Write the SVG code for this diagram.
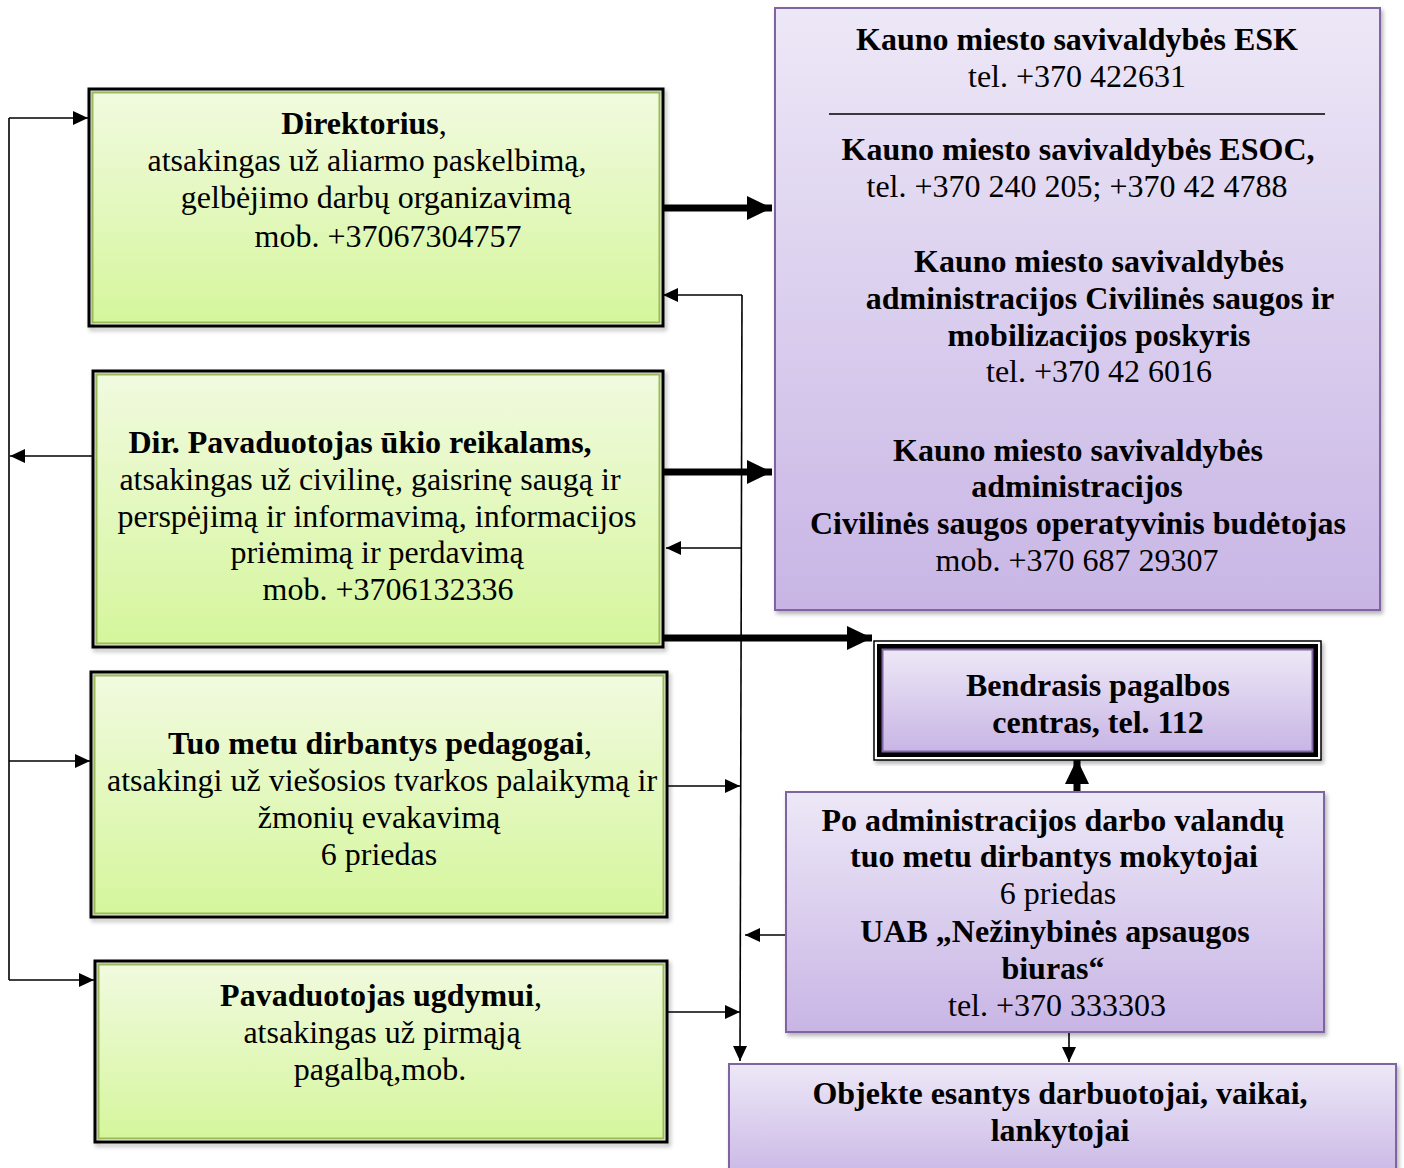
<svg xmlns="http://www.w3.org/2000/svg" width="1404" height="1168" viewBox="0 0 1404 1168">
<style>
text{font-family:"Liberation Serif","Times New Roman",serif;font-size:32px;fill:#000;text-anchor:middle}
.b{font-weight:bold}
.gOut{fill:none;stroke:#000;stroke-width:3}
.gIn{fill:url(#gg);stroke:#9bbb59;stroke-width:2}
.pBox{fill:url(#pg);stroke:#8064a2;stroke-width:2}
.thin{fill:none;stroke:#000;stroke-width:1.6}
.thick{fill:none;stroke:#000;stroke-width:7}
</style>
<defs>
<linearGradient id="gg" x1="0" y1="0" x2="0" y2="1">
<stop offset="0" stop-color="#f1fadf"/>
<stop offset="1" stop-color="#d5f69c"/>
</linearGradient>
<linearGradient id="pg" x1="0" y1="0" x2="0" y2="1">
<stop offset="0" stop-color="#ede8f7"/>
<stop offset="1" stop-color="#c8b5e5"/>
</linearGradient>
<filter id="sh" x="-5%" y="-5%" width="110%" height="110%">
<feDropShadow dx="2" dy="3" stdDeviation="2" flood-color="#000" flood-opacity="0.3"/>
</filter>
<marker id="ah" markerUnits="userSpaceOnUse" markerWidth="16" markerHeight="14" refX="15" refY="7" orient="auto">
<path d="M0,0 L15,7 L0,14 Z" fill="#000"/>
</marker>
<marker id="ahT" markerUnits="userSpaceOnUse" markerWidth="26" markerHeight="24" refX="25" refY="12" orient="auto">
<path d="M0,0 L25,12 L0,24 Z" fill="#000"/>
</marker>
</defs>

<g id="connectors">
<path class="thin" d="M9,118 V980"/>
<path class="thin" d="M9,118 H88" marker-end="url(#ah)"/>
<path class="thin" d="M9,761 H90" marker-end="url(#ah)"/>
<path class="thin" d="M9,980 H94" marker-end="url(#ah)"/>
<path class="thin" d="M92,456 H10" marker-end="url(#ah)"/>
<path class="thin" d="M742,295 L740,1061" marker-end="url(#ah)"/>
<path class="thin" d="M742,295 H663" marker-end="url(#ah)"/>
<path class="thin" d="M741,548 H666" marker-end="url(#ah)"/>
<path class="thin" d="M668,786 H740" marker-end="url(#ah)"/>
<path class="thin" d="M668,1012 H740" marker-end="url(#ah)"/>
<path class="thin" d="M785,935 H745" marker-end="url(#ah)"/>
<path class="thin" d="M1069,1032 V1062" marker-end="url(#ah)"/>
<path class="thick" d="M663,208 H772" marker-end="url(#ahT)"/>
<path class="thick" d="M663,472 H772" marker-end="url(#ahT)"/>
<path class="thick" d="M663,638 H872" marker-end="url(#ahT)"/>
<path class="thick" d="M1077,791 V759" marker-end="url(#ahT)"/>
</g>

<g id="node-direktorius">
<rect class="gOut" x="89" y="89" width="574" height="237" filter="url(#sh)"/>
<rect class="gIn" x="92.5" y="92.5" width="567" height="230"/>
<text x="364" y="134"><tspan class="b">Direktorius</tspan>,</text>
<text x="367" y="171">atsakingas už aliarmo paskelbimą,</text>
<text x="376" y="208">gelbėjimo darbų organizavimą</text>
<text x="388" y="247">mob. +37067304757</text>
</g>

<g id="node-pavaduotojas-ukio">
<rect class="gOut" x="93" y="371" width="570" height="276" filter="url(#sh)"/>
<rect class="gIn" x="96.5" y="374.5" width="563" height="269"/>
<text x="360" y="453" class="b">Dir. Pavaduotojas ūkio reikalams,</text>
<text x="370" y="490">atsakingas už civilinę, gaisrinę saugą ir</text>
<text x="377" y="527">perspėjimą ir informavimą, informacijos</text>
<text x="377" y="563">priėmimą ir perdavimą</text>
<text x="388" y="600">mob. +3706132336</text>
</g>

<g id="node-pedagogai">
<rect class="gOut" x="91" y="672" width="576" height="245" filter="url(#sh)"/>
<rect class="gIn" x="94.5" y="675.5" width="569" height="238"/>
<text x="380" y="754"><tspan class="b">Tuo metu dirbantys pedagogai</tspan>,</text>
<text x="382" y="791">atsakingi už viešosios tvarkos palaikymą ir</text>
<text x="379" y="828">žmonių evakavimą</text>
<text x="379" y="865">6 priedas</text>
</g>

<g id="node-ugdymui">
<rect class="gOut" x="95" y="961" width="572" height="181" filter="url(#sh)"/>
<rect class="gIn" x="98.5" y="964.5" width="565" height="174"/>
<text x="381" y="1006"><tspan class="b">Pavaduotojas ugdymui</tspan>,</text>
<text x="382" y="1043">atsakingas už pirmąją</text>
<text x="380" y="1080">pagalbą,mob.</text>
</g>

<g id="node-kauno">
<rect class="pBox" x="775" y="8" width="605" height="602" filter="url(#sh)"/>
<text x="1077" y="50" class="b">Kauno miesto savivaldybės ESK</text>
<text x="1077" y="87">tel. +370 422631</text>
<line x1="829" y1="114" x2="1325" y2="114" stroke="#000" stroke-width="1.5"/>
<text x="1078" y="160" class="b">Kauno miesto savivaldybės ESOC,</text>
<text x="1077" y="197">tel. +370 240 205; +370 42 4788</text>
<text x="1099" y="272" class="b">Kauno miesto savivaldybės</text>
<text x="1100" y="309" class="b">administracijos Civilinės saugos ir</text>
<text x="1099" y="346" class="b">mobilizacijos poskyris</text>
<text x="1099" y="382">tel. +370 42 6016</text>
<text x="1078" y="461" class="b">Kauno miesto savivaldybės</text>
<text x="1077" y="497" class="b">administracijos</text>
<text x="1078" y="534" class="b">Civilinės saugos operatyvinis budėtojas</text>
<text x="1077" y="571">mob. +370 687 29307</text>
</g>

<g id="node-bendrasis">
<rect x="874" y="641" width="447" height="119" fill="#fff" stroke="#000" stroke-width="1.5" filter="url(#sh)"/>
<rect x="879.5" y="646.5" width="436" height="108" fill="none" stroke="#000" stroke-width="5"/>
<rect x="882.5" y="649.5" width="430" height="102" class="pBox" stroke-width="1.5"/>
<text x="1098" y="696" class="b">Bendrasis pagalbos</text>
<text x="1098" y="733" class="b">centras, tel. 112</text>
</g>

<g id="node-po-administracijos">
<rect class="pBox" x="786" y="792" width="538" height="240" filter="url(#sh)"/>
<text x="1053" y="831" class="b">Po administracijos darbo valandų</text>
<text x="1054" y="867" class="b">tuo metu dirbantys mokytojai</text>
<text x="1058" y="904">6 priedas</text>
<text x="1055" y="942" class="b">UAB „Nežinybinės apsaugos</text>
<text x="1053" y="979" class="b">biuras“</text>
<text x="1057" y="1016">tel. +370 333303</text>
</g>

<g id="node-objekte">
<rect class="pBox" x="729" y="1064" width="667" height="120" filter="url(#sh)"/>
<text x="1060" y="1104" class="b">Objekte esantys darbuotojai, vaikai,</text>
<text x="1060" y="1141" class="b">lankytojai</text>
</g>
</svg>
